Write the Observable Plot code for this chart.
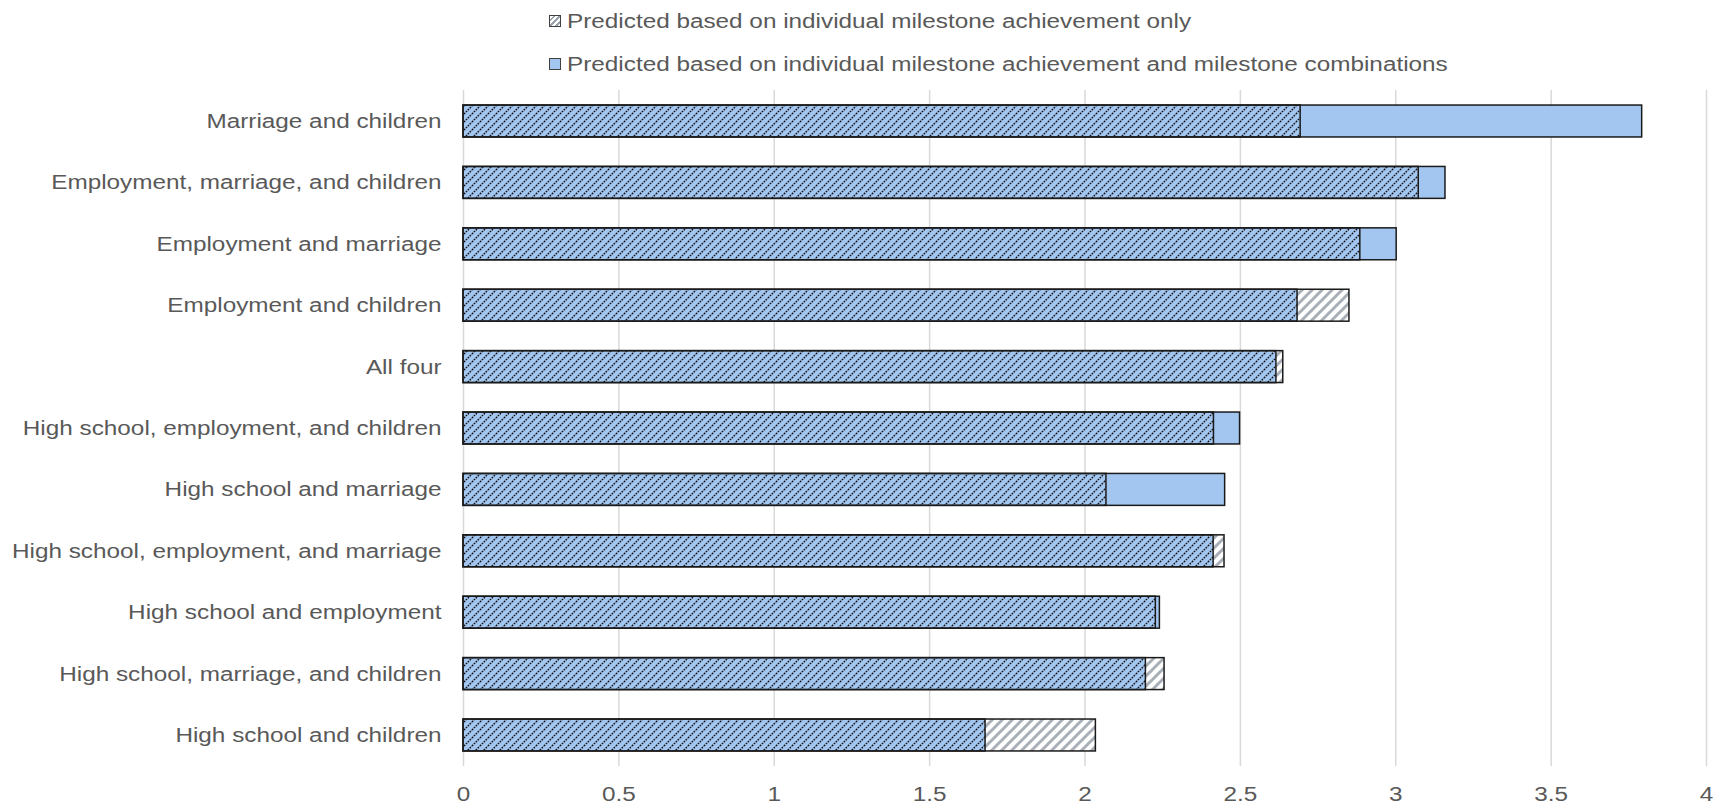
<!DOCTYPE html>
<html><head><meta charset="utf-8">
<script src="https://cdn.jsdelivr.net/npm/d3@7"></script>
<script src="https://cdn.jsdelivr.net/npm/@observablehq/plot@0.6"></script>
<style>
body{margin:0;background:#fff;font-family:"Liberation Sans",Arial,sans-serif;}
#legend{position:relative;height:82px;width:1721px;}
.item{position:absolute;left:549px;display:flex;align-items:center;height:24px;}
.sw{width:12px;height:12px;border:1px solid #404040;box-sizing:border-box;margin-right:6px;flex:none}
.sw1{background:repeating-linear-gradient(-45deg,#fff 0 2px,#9aa3ab 2px 4px);}
.sw2{background:#a3c6f0;}
.lt{font-size:20px;color:#595959;display:inline-block;transform:scaleX(1.215);transform-origin:left center;white-space:nowrap}
</style></head>
<body>
<div id="legend">
  <div class="item" style="top:9px"><span class="sw sw1"></span><span class="lt">Predicted based on individual milestone achievement only</span></div>
  <div class="item" style="top:52px"><span class="sw sw2"></span><span class="lt">Predicted based on individual milestone achievement and milestone combinations</span></div>
</div>
<div id="chart"></div>
<script>
const categories = [
  "Marriage and children",
  "Employment, marriage, and children",
  "Employment and marriage",
  "Employment and children",
  "All four",
  "High school, employment, and children",
  "High school and marriage",
  "High school, employment, and marriage",
  "High school and employment",
  "High school, marriage, and children",
  "High school and children"
];
const individualOnly   = [2.694, 3.074, 2.886, 2.851, 2.638, 2.415, 2.069, 2.449, 2.228, 2.256, 2.035];
const withCombinations = [3.793, 3.160, 3.003, 2.684, 2.616, 2.499, 2.451, 2.414, 2.241, 2.196, 1.680];
const xTicks = [0, 0.5, 1, 1.5, 2, 2.5, 3, 3.5, 4];

const rows = categories.map((c, i) => ({
  cat: c, h: individualOnly[i], b: withCombinations[i],
  lo: Math.min(individualOnly[i], withCombinations[i])
}));
const excess = rows.filter(d => d.h > d.b);

const defs = () => {
  const d = d3.create("svg:defs");
  const p1 = d.append("pattern").attr("id", "hatchBlack").attr("patternUnits", "userSpaceOnUse")
    .attr("width", 8).attr("height", 8);
  p1.append("path").attr("d", "M-2,2 L2,-2 M0,8 L8,0 M6,10 L10,6")
    .attr("stroke", "#111").attr("stroke-width", 1.5).attr("stroke-dasharray", "1.6,1.1");
  const p2 = d.append("pattern").attr("id", "hatchGray").attr("patternUnits", "userSpaceOnUse")
    .attr("width", 10).attr("height", 10);
  p2.append("rect").attr("width", 10).attr("height", 10).attr("fill", "#fff");
  p2.append("path").attr("d", "M-2.5,2.5 L2.5,-2.5 M0,10 L10,0 M7.5,12.5 L12.5,7.5")
    .attr("stroke", "#a8afb6").attr("stroke-width", 3);
  return d.node();
};

const chart = Plot.plot({
  width: 1721,
  height: 727,
  marginLeft: 463,
  marginRight: 15,
  marginTop: 8,
  marginBottom: 43,
  style: {fontFamily: "'Liberation Sans', Arial, sans-serif", fontSize: "20px", color: "#595959", background: "#fff"},
  x: {domain: [0, 4], ticks: xTicks, tickFormat: d => String(d), tickSize: 0, tickPadding: 20, label: null},
  y: {domain: categories, paddingInner: 0.48, paddingOuter: 0.245, round: false, tickSize: 0, tickPadding: 22, label: null},
  marks: [
    defs,
    Plot.ruleX(xTicks, {stroke: "#d9d9d9", strokeWidth: 1.5}),
    Plot.barX(rows, {x: "b", y: "cat", fill: "#a3c6f0"}),
    Plot.barX(excess, {x1: "b", x2: "h", y: "cat", fill: "url(#hatchGray)"}),
    Plot.barX(rows, {x: "lo", y: "cat", fill: "url(#hatchBlack)"}),
    Plot.barX(rows, {x: "b", y: "cat", fill: "none", stroke: "#1a1a1a", strokeWidth: 1.5}),
    Plot.barX(rows, {x: "h", y: "cat", fill: "none", stroke: "#1a1a1a", strokeWidth: 1.5})
  ]
});
document.getElementById("chart").append(chart);
chart.querySelectorAll("text").forEach(t => {
  const w = t.getComputedTextLength();
  if (w > 0) {
    t.setAttribute("textLength", (w * 1.215).toFixed(1));
    t.setAttribute("lengthAdjust", "spacingAndGlyphs");
  }
});
</script>
</body></html>
